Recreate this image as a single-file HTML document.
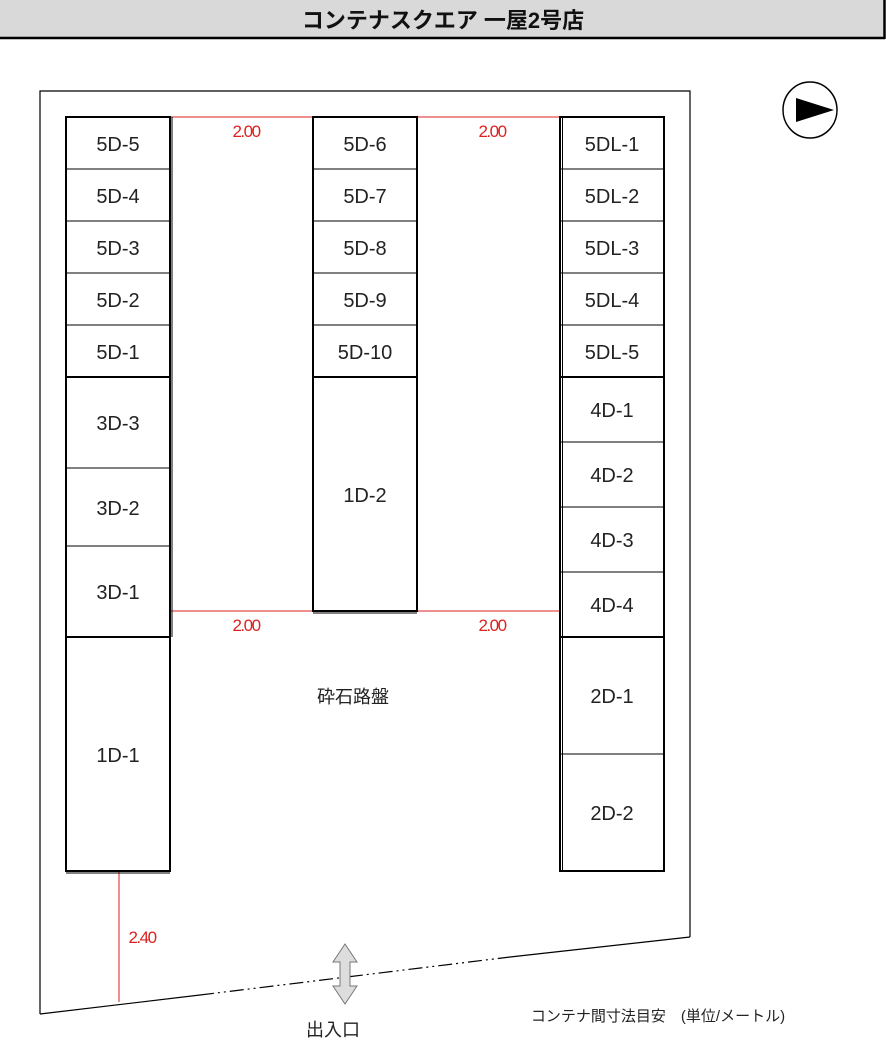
<!DOCTYPE html>
<html><head><meta charset="utf-8"><style>
body{margin:0;background:#fff;width:886px;height:1054px;overflow:hidden}
svg{display:block}
text{font-family:"Liberation Sans","Noto Sans CJK JP",sans-serif}
.l{font-size:20px;fill:#222;text-anchor:middle;dominant-baseline:central}
.r{font-size:17px;fill:#d22;text-anchor:middle;letter-spacing:-1.5px}
</style></head><body>
<svg width="886" height="1054" viewBox="0 0 886 1054">
<rect x="0" y="0" width="884" height="37" fill="#d9d9d9"/>
<line x1="0" y1="38" x2="885" y2="38" stroke="#000" stroke-width="2.5"/>
<line x1="884.5" y1="0" x2="884.5" y2="39" stroke="#000" stroke-width="2.5"/>
<text x="443" y="28" font-size="22" font-weight="bold" text-anchor="middle" fill="#111" font-family="Liberation Sans,Noto Sans CJK JP,sans-serif">コンテナスクエア 一屋2号店</text>
<g stroke="#000" stroke-width="1.2" fill="none">
<polyline points="40,1014 40,91 690,91 690,937"/>
<line x1="40" y1="1014" x2="200" y2="995"/>
<line x1="510" y1="957" x2="690" y2="937"/>
<line x1="200" y1="995" x2="510" y2="957" stroke-dasharray="14,4,2,4,2,4"/>
</g>
<g stroke="#d22" stroke-width="1">
<line x1="170" y1="117" x2="313" y2="117"/><line x1="417" y1="117" x2="560" y2="117"/>
<line x1="170" y1="611" x2="313" y2="611"/><line x1="417" y1="611" x2="560" y2="611"/>
<line x1="119" y1="872" x2="119" y2="1002"/>
</g>
<text class="r" x="246" y="137">2.00</text><text class="r" x="492" y="137">2.00</text>
<text class="r" x="246" y="631">2.00</text><text class="r" x="492" y="631">2.00</text>
<text class="r" x="142" y="943">2.40</text>
<g stroke="#000" fill="none">
<rect x="66" y="117" width="104" height="754" stroke-width="2"/>
<line x1="172" y1="117" x2="172" y2="637" stroke-width="1"/>
<line x1="66" y1="873" x2="170" y2="873" stroke-width="1"/>
<line x1="66" y1="377" x2="170" y2="377" stroke-width="2"/>
<line x1="66" y1="637" x2="170" y2="637" stroke-width="2"/>
<g stroke-width="1">
<line x1="66" y1="169" x2="170" y2="169"/><line x1="66" y1="221" x2="170" y2="221"/><line x1="66" y1="273" x2="170" y2="273"/><line x1="66" y1="325" x2="170" y2="325"/>
<line x1="66" y1="468" x2="170" y2="468"/><line x1="66" y1="546" x2="170" y2="546"/>
</g>
<rect x="313" y="117" width="104" height="494" stroke-width="2"/>
<line x1="313" y1="613" x2="417" y2="613" stroke-width="1"/>
<line x1="313" y1="377" x2="417" y2="377" stroke-width="2"/>
<g stroke-width="1">
<line x1="313" y1="169" x2="417" y2="169"/><line x1="313" y1="221" x2="417" y2="221"/><line x1="313" y1="273" x2="417" y2="273"/><line x1="313" y1="325" x2="417" y2="325"/>
</g>
<rect x="560" y="117" width="104" height="754" stroke-width="2"/>
<line x1="562.5" y1="117" x2="562.5" y2="871" stroke-width="1"/>
<line x1="560" y1="377" x2="664" y2="377" stroke-width="2"/>
<line x1="560" y1="637" x2="664" y2="637" stroke-width="2"/>
<g stroke-width="1">
<line x1="560" y1="169" x2="664" y2="169"/><line x1="560" y1="221" x2="664" y2="221"/><line x1="560" y1="273" x2="664" y2="273"/><line x1="560" y1="325" x2="664" y2="325"/>
<line x1="560" y1="442" x2="664" y2="442"/><line x1="560" y1="507" x2="664" y2="507"/><line x1="560" y1="572" x2="664" y2="572"/><line x1="560" y1="754" x2="664" y2="754"/>
</g>
</g>
<g>
<text class="l" x="118" y="145">5D-5</text><text class="l" x="118" y="197">5D-4</text><text class="l" x="118" y="249">5D-3</text><text class="l" x="118" y="301">5D-2</text><text class="l" x="118" y="353">5D-1</text>
<text class="l" x="118" y="424">3D-3</text><text class="l" x="118" y="509">3D-2</text><text class="l" x="118" y="593">3D-1</text><text class="l" x="118" y="756">1D-1</text>
<text class="l" x="365" y="145">5D-6</text><text class="l" x="365" y="197">5D-7</text><text class="l" x="365" y="249">5D-8</text><text class="l" x="365" y="301">5D-9</text><text class="l" x="365" y="353">5D-10</text><text class="l" x="365" y="496">1D-2</text>
<text class="l" x="612" y="145">5DL-1</text><text class="l" x="612" y="197">5DL-2</text><text class="l" x="612" y="249">5DL-3</text><text class="l" x="612" y="301">5DL-4</text><text class="l" x="612" y="353">5DL-5</text>
<text class="l" x="612" y="411">4D-1</text><text class="l" x="612" y="476">4D-2</text><text class="l" x="612" y="541">4D-3</text><text class="l" x="612" y="606">4D-4</text>
<text class="l" x="612" y="697">2D-1</text><text class="l" x="612" y="814">2D-2</text>
</g>
<text x="353" y="703" font-size="18" text-anchor="middle" fill="#222">砕石路盤</text>
<text x="333" y="1036" font-size="18" text-anchor="middle" fill="#222">出入口</text>
<text x="658" y="1021" font-size="15" text-anchor="middle" fill="#222">コンテナ間寸法目安　(単位/メートル)</text>
<ellipse cx="810" cy="110" rx="27" ry="28" fill="#fff" stroke="#000" stroke-width="1.5"/>
<polygon points="796,98 834,110 796,122" fill="#000"/>
<polygon points="345,944 357,962 350,962 350,986 357,986 345,1004 333,986 340,986 340,962 333,962" fill="#ddd" stroke="#777" stroke-width="1"/>
</svg>
</body></html>
